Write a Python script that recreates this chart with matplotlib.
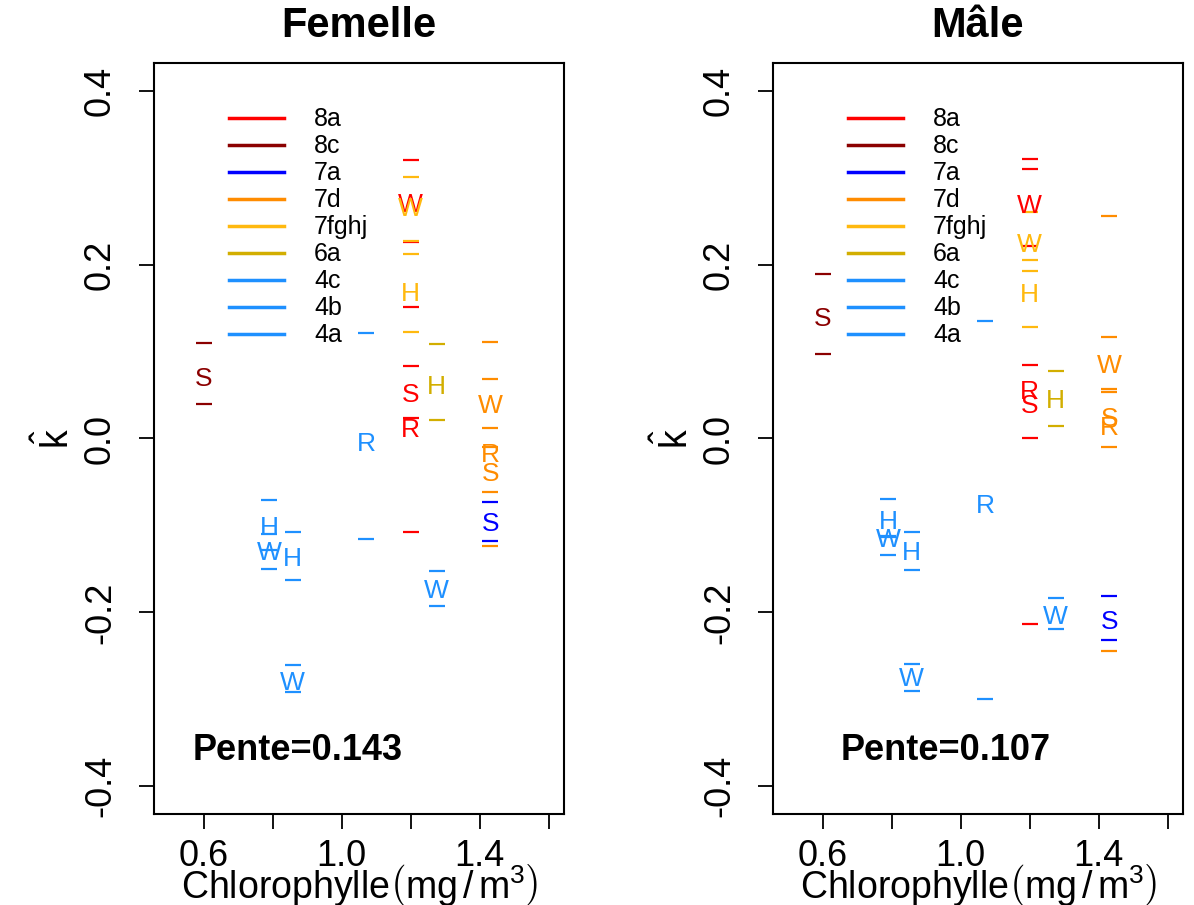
import matplotlib
matplotlib.use("Agg")
import matplotlib.pyplot as plt
from matplotlib.lines import Line2D

plt.rcParams["font.family"] = ["Liberation Sans", "DejaVu Sans"]
plt.rcParams["mathtext.fontset"] = "custom"
plt.rcParams["mathtext.rm"] = "Liberation Sans"
plt.rcParams["mathtext.it"] = "Liberation Sans:italic"
plt.rcParams["mathtext.bf"] = "Liberation Sans:bold"

REGIONS = ["8a", "8c", "7a", "7d", "7fghj", "6a", "4c", "4b", "4a"]
REGION_COLORS = {
    "8a": "#FF0000",
    "8c": "#8B0000",
    "7a": "#0000FF",
    "7d": "#FF8C00",
    "7fghj": "#FFB90F",
    "6a": "#D2AE00",
    "4c": "#1E90FF",
    "4b": "#1E90FF",
    "4a": "#1E90FF",
}

# Femelle: chlorophyll, k-hat estimate, lower / upper bound, stock letter, region
FEM_REG = ["8a", "8a", "8a", "8c", "7a", "7d", "7d", "7d", "7fghj", "7fghj",
           "6a", "4c", "4c", "4b", "4b", "4a", "4a"]
FEM_LAB = ["W", "S", "R", "S", "S", "W", "R", "S", "W", "H",
           "H", "H", "W", "H", "W", "R", "W"]
FEM_X = [1.20, 1.20, 1.20, 0.60, 1.43, 1.43, 1.43, 1.43, 1.20, 1.20,
         1.275, 0.79, 0.79, 0.858, 0.858, 1.07, 1.275]
FEM_K = [0.269, 0.050, 0.010, 0.069, -0.098, 0.037, -0.019, -0.041, 0.264, 0.166,
         0.059, -0.103, -0.132, -0.139, -0.281, -0.006, -0.176]
FEM_LO = [0.226, 0.024, -0.108, 0.040, -0.118, 0.012, -0.124, -0.062, 0.227, 0.123,
          0.021, -0.128, -0.150, -0.163, -0.292, -0.116, -0.193]
FEM_HI = [0.320, 0.083, 0.151, 0.110, -0.073, 0.069, 0.111, -0.010, 0.301, 0.212,
          0.109, -0.071, -0.110, -0.107, -0.261, 0.121, -0.153]
FEM_SLOPE = 0.143

# Mâle
MAL_REG = FEM_REG
MAL_LAB = ["W", "S", "R", "S", "S", "W", "R", "S", "W", "H",
           "H", "H", "W", "H", "W", "R", "W"]
MAL_X = FEM_X
MAL_K = [0.267, 0.037, 0.054, 0.137, -0.211, 0.083, 0.012, 0.023, 0.223, 0.165,
         0.043, -0.096, -0.117, -0.132, -0.277, -0.078, -0.205]
MAL_LO = [0.221, 0.001, -0.213, 0.097, -0.232, 0.057, -0.245, -0.010, 0.193, 0.128,
          0.014, -0.113, -0.134, -0.151, -0.290, -0.300, -0.219]
MAL_HI = [0.310, 0.084, 0.321, 0.189, -0.181, 0.117, 0.256, 0.053, 0.261, 0.205,
          0.078, -0.070, -0.112, -0.108, -0.259, 0.135, -0.184]
MAL_SLOPE = 0.107

XTICKS = [0.6, 0.8, 1.0, 1.2, 1.4, 1.6]
XTICK_LABELS = ["0.6", "", "1.0", "", "1.4", ""]
YTICKS = [-0.4, -0.2, 0.0, 0.2, 0.4]
YTICK_LABELS = ["-0.4", "-0.2", "0.0", "0.2", "0.4"]

W, H = 1194, 905


def draw_panel(ax, title, xs, ks, los, his, labs, regs, slope, slope_pos):
    for reg in REGIONS:
        idx = [i for i, r in enumerate(regs) if r == reg]
        if not idx:
            continue
        c = REGION_COLORS[reg]
        for i in idx:
            ax.text(xs[i], ks[i], labs[i], color=c, fontsize=19,
                    ha="center", va="center")
        ax.plot([xs[i] for i in idx], [los[i] for i in idx], ls="none",
                marker="_", ms=11, mew=1.6, color=c)
        ax.plot([xs[i] for i in idx], [his[i] for i in idx], ls="none",
                marker="_", ms=11, mew=1.6, color=c)

    ax.set_xlim(0.456, 1.644)
    ax.set_ylim(-0.432, 0.432)
    ax.set_xticks(XTICKS)
    ax.set_xticklabels(XTICK_LABELS)
    ax.set_yticks(YTICKS)
    ax.set_yticklabels(YTICK_LABELS, rotation=90, va="center")
    ax.tick_params(axis="both", direction="out", length=11, width=1.3,
                   labelsize=26)
    ax.tick_params(axis="x", pad=7)
    ax.tick_params(axis="y", pad=15)
    for sp in ax.spines.values():
        sp.set_linewidth(1.5)

    ax.set_title(title, fontsize=30, fontweight="bold", pad=19)
    ax.set_xlabel(r"Chlorophylle$\left(\mathrm{mg\,/\,m^{3}}\right)$",
                  fontsize=27, labelpad=-9)
    ax.set_ylabel(r"$\hat{\mathrm{k}}$", fontsize=27, labelpad=4)

    ax.text(slope_pos[0], slope_pos[1], f"Pente={slope:.3f}",
            transform=ax.transAxes, fontsize=26, fontweight="bold",
            ha="center", va="center")

    handles = [Line2D([], [], color=REGION_COLORS[r], lw=2.5) for r in REGIONS]
    ax.legend(handles, REGIONS, loc="upper left", bbox_to_anchor=(0.183, 0.941),
              frameon=False, fontsize=18, handlelength=2.2, handletextpad=1.2,
              labelspacing=0.12, borderpad=0, borderaxespad=0)


fig = plt.figure(figsize=(W / 100, H / 100), dpi=100)
ax1 = fig.add_axes([154 / W, 1 - 814 / H, 410 / W, 751 / H])
ax2 = fig.add_axes([773 / W, 1 - 814 / H, 410 / W, 751 / H])

draw_panel(ax1, "Femelle", FEM_X, FEM_K, FEM_LO, FEM_HI, FEM_LAB, FEM_REG,
           FEM_SLOPE, (0.351, 0.085))
draw_panel(ax2, "Mâle", MAL_X, MAL_K, MAL_LO, MAL_HI, MAL_LAB, MAL_REG,
           MAL_SLOPE, (0.42, 0.085))

fig.savefig("out.png", dpi=100)
